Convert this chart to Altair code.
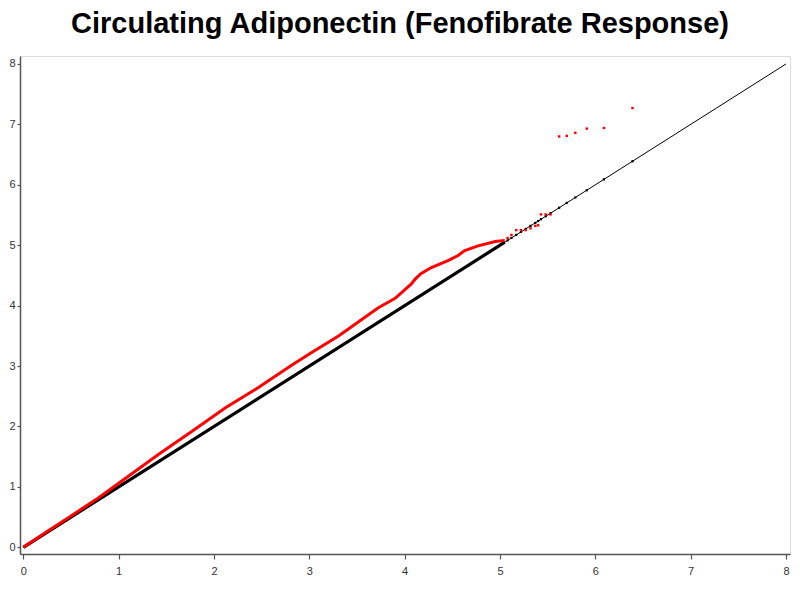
import altair as alt
import pandas as pd

# Observed (red) dense part of the QQ curve: expected -log10(p) vs observed
red_x = [0.0, 0.25, 0.5, 0.79, 1.0, 1.42, 1.77, 2.12, 2.47, 2.81, 3.02, 3.31, 3.55,
         3.72, 3.90, 4.0, 4.07, 4.11, 4.17, 4.28, 4.46, 4.56, 4.63, 4.77, 4.95, 5.05]
red_y = [0.0, 0.26, 0.52, 0.82, 1.06, 1.54, 1.92, 2.31, 2.65, 3.01, 3.22, 3.50, 3.77,
         3.96, 4.12, 4.26, 4.36, 4.44, 4.53, 4.63, 4.75, 4.83, 4.91, 4.99, 5.06, 5.08]

# Sparse observed tail points
tail_x = [5.08, 5.12, 5.17, 5.22, 5.27, 5.32, 5.37, 5.40, 5.43, 5.48, 5.53,
          5.62, 5.70, 5.79, 5.91, 6.09, 6.39]
tail_y = [5.12, 5.17, 5.25, 5.25, 5.25, 5.28, 5.32, 5.33, 5.51, 5.51, 5.51,
          6.80, 6.81, 6.86, 6.93, 6.94, 7.27]

# Expected (black) points
null_line_x = [0.0, 5.05]
null_line_y = [0.0, 5.05]
null_pts_x = [5.08, 5.12, 5.17, 5.22, 5.27, 5.32, 5.37, 5.40, 5.43, 5.48, 5.53,
              5.62, 5.70, 5.79, 5.91, 6.09, 6.39]
null_pts_y = [5.08, 5.12, 5.17, 5.22, 5.27, 5.32, 5.37, 5.40, 5.43, 5.48, 5.53,
              5.62, 5.70, 5.79, 5.91, 6.09, 6.39]

# Reference diagonal
diag_x = [0.0, 8.0]
diag_y = [0.0, 8.0]

ticks = [0, 1, 2, 3, 4, 5, 6, 7, 8]

xs = alt.Scale(domain=[-0.035, 8.042], nice=False, zero=False)
ys = alt.Scale(domain=[-0.111, 8.132], nice=False, zero=False)

axis_common = dict(values=ticks, grid=False, domainColor="#555555", domainWidth=1.5,
                   tickColor="#555555", tickWidth=1.2,
                   labelFont="Liberation Sans", labelFontSize=11, labelColor="#333333",
                   title=None)
xax = alt.Axis(labelPadding=6, tickSize=5, **axis_common)
yax = alt.Axis(labelPadding=2, tickSize=3, **axis_common)

def enc(ch):
    return ch.encode(
        x=alt.X("x:Q", scale=xs, axis=xax),
        y=alt.Y("y:Q", scale=ys, axis=yax),
    )

diag = enc(alt.Chart(pd.DataFrame({"x": diag_x, "y": diag_y})).mark_line(
    color="black", strokeWidth=1, clip=True))
null_line = enc(alt.Chart(pd.DataFrame({"x": null_line_x, "y": null_line_y})).mark_line(
    color="black", strokeWidth=3.2))
null_pts = enc(alt.Chart(pd.DataFrame({"x": null_pts_x, "y": null_pts_y})).mark_square(
    color="black", size=5, opacity=1))
red_line = enc(alt.Chart(pd.DataFrame({"x": red_x, "y": red_y})).mark_line(
    color="#ff0000", strokeWidth=3))
red_pts = enc(alt.Chart(pd.DataFrame({"x": tail_x, "y": tail_y})).mark_square(
    color="#ff0000", size=6, opacity=1))

chart = alt.layer(diag, null_line, null_pts, red_line, red_pts).properties(
    width=770, height=498,
    title=alt.TitleParams("Circulating Adiponectin (Fenofibrate Response)",
                          font="Liberation Sans", fontSize=29, fontWeight="bold",
                          color="black", anchor="middle", dx=-5, offset=17),
    autosize=alt.AutoSizeParams(type="none"),
    padding={"left": 12, "top": 48, "right": 2, "bottom": 24},
).configure_view(stroke="#555555", strokeWidth=1.5).configure(background="white")

chart.save("out.html", embed_options={"renderer": "svg", "actions": False})
